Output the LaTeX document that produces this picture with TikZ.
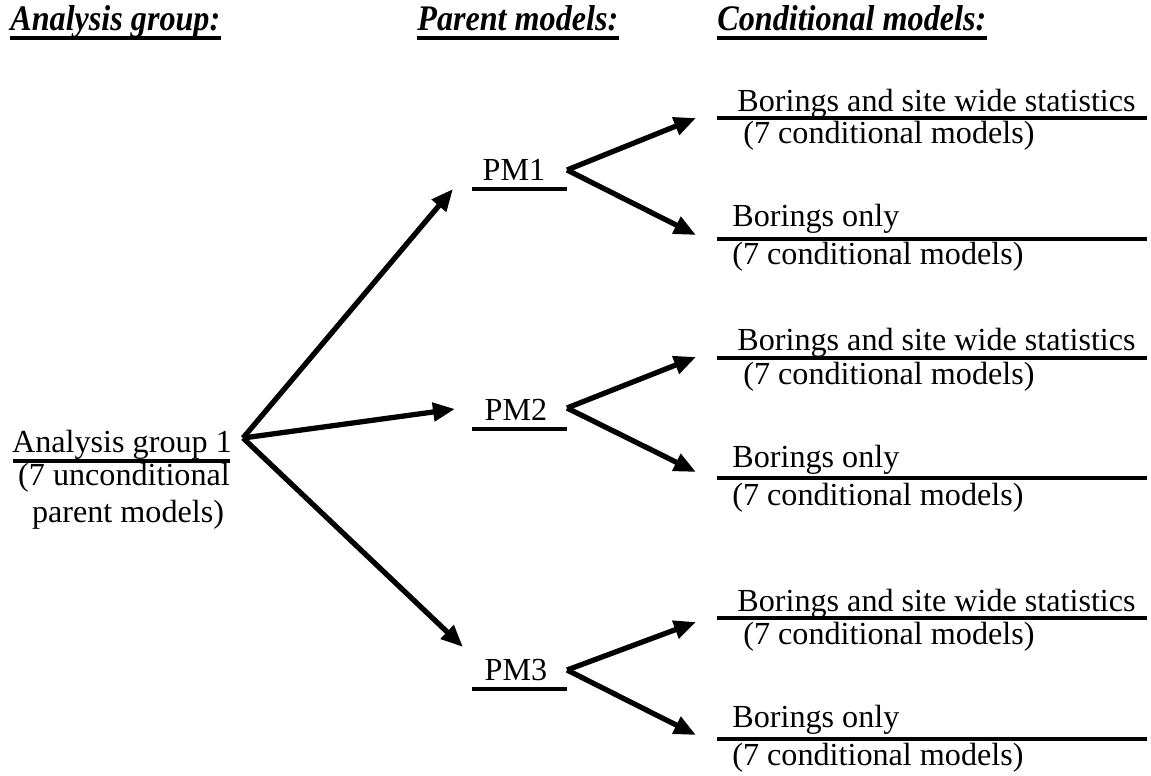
\documentclass[tikz,border=0pt]{standalone}
\usepackage{fontspec}
\setmainfont{Liberation Serif}
\usetikzlibrary{arrows.meta}
\begin{document}
\begin{tikzpicture}[x=0.02cm, y=-0.02cm,
    every node/.style={inner sep=0pt, font=\fontsize{18.3}{21}\selectfont},
    head/.style={font=\fontsize{18.3}{21}\selectfont\bfseries\itshape},
    arr/.style={line width=3pt, -{Triangle[length=0.44cm, width=0.36cm]}},
    rule/.style={line width=1.8pt},
    headrule/.style={line width=2.4pt}]
    \useasboundingbox (0,0) rectangle (1151,776);

    % headings
    \node (hag) [head, anchor=base west] at (10,31) {\scalebox{1}[1.12]{Analysis group:}};
    \node (hpm) [head, anchor=base west] at (417,31) {\scalebox{1}[1.12]{Parent models:}};
    \node (hcm) [head, anchor=base west] at (717,31) {\scalebox{1}[1.12]{Conditional models:}};
    \draw [headrule] (hag.west |- 0,38) -- (hag.east |- 0,38);
    \draw [headrule] (hpm.west |- 0,38) -- (hpm.east |- 0,38);
    \draw [headrule] (hcm.west |- 0,38) -- (hcm.east |- 0,38);

    % analysis group
    \node (ag) [anchor=base] at (122,452) {Analysis group 1};
    \draw [rule] (13,461) -- (230,461);
    \node (ag2) [anchor=base] at (124,485) {(7 unconditional};
    \node (ag3) [anchor=base] at (128,522) {parent models)};
    \coordinate (agout) at (243,438);

    % parent models
    \node (pm1) [anchor=base] at (514,181) {PM1};
    \draw [rule] (472,189) -- (567,189);
    \coordinate (pm1in) at (453,189);
    \coordinate (pm1out) at (567,170);

    \node (pm2) [anchor=base] at (516,420) {PM2};
    \draw [rule] (472,429) -- (567,429);
    \coordinate (pm2in) at (455,409);
    \coordinate (pm2out) at (567,408);

    \node (pm3) [anchor=base] at (516,680) {PM3};
    \draw [rule] (472,689) -- (567,689);
    \coordinate (pm3in) at (463,647);
    \coordinate (pm3out) at (567,670);

    % conditional models, PM1
    \node (c1a) [anchor=base west] at (737,112) {Borings and site wide statistics};
    \draw [rule] (717,118) -- (1147,118);
    \node (c1an) [anchor=base west] at (743,144) {(7 conditional models)};
    \node (c1b) [anchor=base west] at (732,227) {Borings only};
    \draw [rule] (717,239) -- (1147,239);
    \node (c1bn) [anchor=base west] at (732,265) {(7 conditional models)};
    \coordinate (c1ain) at (696,118);
    \coordinate (c1bin) at (696,235);

    % conditional models, PM2
    \node (c2a) [anchor=base west] at (737,351) {Borings and site wide statistics};
    \draw [rule] (717,358) -- (1147,358);
    \node (c2an) [anchor=base west] at (743,384) {(7 conditional models)};
    \node (c2b) [anchor=base west] at (732,467) {Borings only};
    \draw [rule] (717,478) -- (1147,478);
    \node (c2bn) [anchor=base west] at (732,505) {(7 conditional models)};
    \coordinate (c2ain) at (696,357);
    \coordinate (c2bin) at (696,472);

    % conditional models, PM3
    \node (c3a) [anchor=base west] at (737,611) {Borings and site wide statistics};
    \draw [rule] (717,618) -- (1147,618);
    \node (c3an) [anchor=base west] at (743,644) {(7 conditional models)};
    \node (c3b) [anchor=base west] at (732,727) {Borings only};
    \draw [rule] (717,739) -- (1147,739);
    \node (c3bn) [anchor=base west] at (732,765) {(7 conditional models)};
    \coordinate (c3ain) at (696,622);
    \coordinate (c3bin) at (696,735);

    % arrows
    \draw [arr] (agout) -- (pm1in);
    \draw [arr] (agout) -- (pm2in);
    \draw [arr] (agout) -- (pm3in);
    \draw [arr] (pm1out) -- (c1ain);
    \draw [arr] (pm1out) -- (c1bin);
    \draw [arr] (pm2out) -- (c2ain);
    \draw [arr] (pm2out) -- (c2bin);
    \draw [arr] (pm3out) -- (c3ain);
    \draw [arr] (pm3out) -- (c3bin);
  \end{tikzpicture}
\end{document}
